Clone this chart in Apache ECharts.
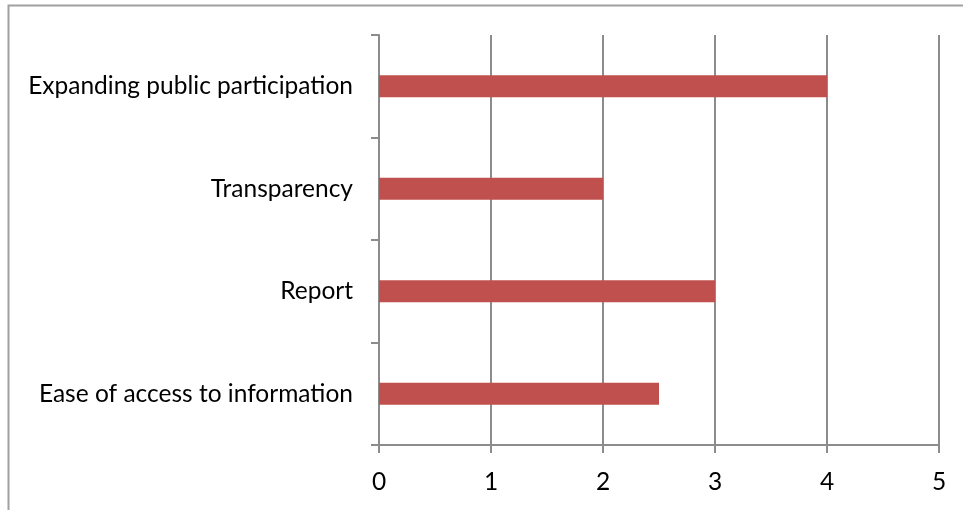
<!DOCTYPE html>
<html>
<head>
<meta charset="utf-8">
<script src="https://cdn.jsdelivr.net/npm/echarts@6/dist/echarts.min.js"></script>
<style>html,body{margin:0;padding:0;background:#fff}#c{width:963px;height:510px}</style>
</head>
<body>
<div id="c"></div>
<script>
const categories = ["Ease of access to information", "Report", "Transparency", "Expanding public participation"];
const values = [2.5, 3, 2, 4];
const xTicks = [0, 1, 2, 3, 4, 5];

const chart = echarts.init(document.getElementById('c'), null, {renderer: 'canvas'});
const font = 'Lato, "Open Sans", sans-serif';
chart.setOption({
  animation: false,
  backgroundColor: '#fff',
  graphic: [{
    type: 'rect',
    shape: {x: 8.5, y: 5.5, width: 1200, height: 1200},
    style: {fill: 'none', stroke: '#a0a0a0', lineWidth: 2},
    silent: true
  }],
  grid: {left: 379, right: 24, top: 35, bottom: 65, containLabel: false},
  xAxis: {
    type: 'value', min: xTicks[0], max: xTicks[xTicks.length - 1], interval: 1,
    axisLine: {show: true, lineStyle: {color: '#8c8c8c', width: 2}},
    axisTick: {show: true, length: 8, lineStyle: {color: '#8c8c8c', width: 2}},
    splitLine: {show: true, lineStyle: {color: '#8c8c8c', width: 2}},
    axisLabel: {color: '#000', fontSize: 24.5, fontFamily: font, margin: 25}
  },
  yAxis: {
    type: 'category', data: categories,
    axisLine: {show: true, lineStyle: {color: '#8c8c8c', width: 2}},
    axisTick: {show: true, length: 8, lineStyle: {color: '#8c8c8c', width: 2}},
    axisLabel: {color: '#000', fontSize: 24.5, fontFamily: font, margin: 26}
  },
  series: [{
    type: 'bar', data: values, barWidth: 22,
    itemStyle: {color: '#C0504D'}
  }]
});
</script>
</body>
</html>
